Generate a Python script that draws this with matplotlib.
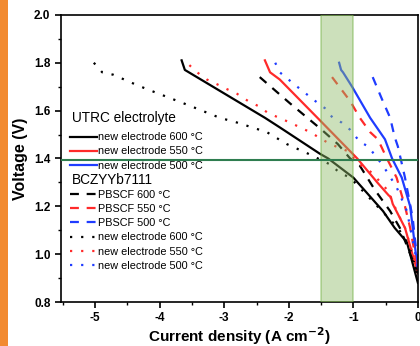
import matplotlib
matplotlib.use("Agg")
import matplotlib.pyplot as plt
from matplotlib.ticker import MultipleLocator
from matplotlib.patches import Rectangle

plt.rcParams['font.family'] = ['Liberation Sans', 'DejaVu Sans']

# UTRC electrolyte, new electrode (solid)
utrc600_x = [-3.66, -3.61, -3.3, -2.37, -2.14, -1.52, -1.39, -1.0, -0.54, -0.36, -0.17, 0.0]
utrc600_y = [1.81, 1.77, 1.72, 1.57, 1.53, 1.42, 1.40, 1.32, 1.18, 1.11, 1.05, 0.88]
utrc550_x = [-2.37, -2.29, -2.14, -1.52, -0.94, -0.63, -0.45, -0.42, -0.39, -0.2, 0.0]
utrc550_y = [1.81, 1.76, 1.73, 1.56, 1.40, 1.30, 1.245, 1.24, 1.21, 1.11, 0.92]
utrc500_x = [-1.22, -1.19, -1.16, -1.02, -0.74, -0.51, -0.40, -0.25, -0.12, 0.0]
utrc500_y = [1.80, 1.77, 1.76, 1.70, 1.57, 1.48, 1.40, 1.32, 1.20, 0.93]

# BCZYYb7111, PBSCF (dashed)
pbscf600_x = [-2.45, -1.98, -1.49, -1.24, -1.05, -0.9, -0.67, -0.43, -0.28, 0.0]
pbscf600_y = [1.74, 1.63, 1.52, 1.46, 1.40, 1.37, 1.27, 1.18, 1.11, 0.92]
pbscf550_x = [-1.33, -1.05, -0.90, -0.74, -0.62, -0.48, -0.33, -0.2, -0.12, 0.0]
pbscf550_y = [1.74, 1.64, 1.57, 1.51, 1.48, 1.40, 1.32, 1.20, 1.11, 0.93]
pbscf500_x = [-0.70, -0.56, -0.43, -0.36, -0.31, -0.2, -0.08, 0.0]
pbscf500_y = [1.74, 1.65, 1.57, 1.49, 1.45, 1.32, 1.15, 0.95]

# BCZYYb7111, new electrode (dotted)
bcz600_x = [-5.02, -4.89, -4.72, -4.55, -4.38, -4.2, -3.53, -3.07, -2.8, -2.34, -2.03, -1.70, -1.36, -1.21, -1.05, -0.31, -0.12, 0.0]
bcz600_y = [1.80, 1.76, 1.75, 1.73, 1.71, 1.69, 1.62, 1.57, 1.55, 1.51, 1.46, 1.42, 1.375, 1.34, 1.32, 1.11, 1.03, 0.90]
bcz550_x = [-3.54, -3.42, -3.27, -3.11, -2.96, -2.8, -2.63, -2.48, -2.32, -1.98, -1.67, -1.36, -1.08, -0.93, -0.71, -0.48, -0.31, -0.2, 0.0]
bcz550_y = [1.79, 1.76, 1.73, 1.71, 1.69, 1.67, 1.64, 1.62, 1.59, 1.55, 1.51, 1.46, 1.43, 1.38, 1.34, 1.27, 1.17, 1.11, 0.93]
bcz500_x = [-2.21, -2.14, -1.87, -1.59, -1.44, -1.32, -1.18, -1.05, -0.9, -0.77, -0.54, -0.33, -0.17, 0.0]
bcz500_y = [1.80, 1.76, 1.70, 1.64, 1.61, 1.57, 1.55, 1.52, 1.47, 1.45, 1.37, 1.28, 1.18, 0.95]

highlight_x = [-1.5, -1.0]
highlight_v = 1.393

fig = plt.figure(figsize=(4.2, 3.46), dpi=100)
# orange strip at left edge
fig.patches.append(Rectangle((0, 0), 8 / 420, 1, transform=fig.transFigure,
                             facecolor='#f28a30', edgecolor='none', zorder=0))
ax = fig.add_axes([0.145, 0.127, 0.85, 0.83])

dash = (0, (4, 3.5))
dot = (0, (1, 4))
lw = 1.6
h1 = []
h1 += ax.plot(utrc600_x, utrc600_y, color='black', lw=lw, label='new electrode 600 °C')
h1 += ax.plot(utrc550_x, utrc550_y, color='#ff2a2a', lw=lw, label='new electrode 550 °C')
h1 += ax.plot(utrc500_x, utrc500_y, color='#1f3cff', lw=lw, label='new electrode 500 °C')
h2 = []
h2 += ax.plot(pbscf600_x, pbscf600_y, color='black', lw=lw, ls=dash, label='PBSCF 600 °C')
h2 += ax.plot(pbscf550_x, pbscf550_y, color='#ff2a2a', lw=lw, ls=dash, label='PBSCF 550 °C')
h2 += ax.plot(pbscf500_x, pbscf500_y, color='#1f3cff', lw=lw, ls=dash, label='PBSCF 500 °C')
h2 += ax.plot(bcz600_x, bcz600_y, color='black', lw=lw, ls=dot, label='new electrode 600 °C')
h2 += ax.plot(bcz550_x, bcz550_y, color='#ff2a2a', lw=lw, ls=dot, label='new electrode 550 °C')
h2 += ax.plot(bcz500_x, bcz500_y, color='#1f3cff', lw=lw, ls=dot, label='new electrode 500 °C')

ax.axvspan(highlight_x[0], highlight_x[1], facecolor='#8fbc6a', alpha=0.45,
           edgecolor='#6fb040', lw=1.2, zorder=5)
ax.axhline(highlight_v, color='#2e7d4f', lw=1.5, zorder=6)

ax.set_xlim(-5.53, 0)
ax.set_ylim(0.8, 2.0)
ax.xaxis.set_major_locator(MultipleLocator(1))
ax.xaxis.set_minor_locator(MultipleLocator(0.5))
ax.yaxis.set_major_locator(MultipleLocator(0.2))
ax.yaxis.set_minor_locator(MultipleLocator(0.1))
ax.set_xticks([-5, -4, -3, -2, -1, 0])
ax.set_xticklabels(['-5', '-4', '-3', '-2', '-1', '0'])
ax.tick_params(which='major', direction='out', length=4, width=1.2, labelsize=8.5)
ax.tick_params(which='minor', direction='out', length=2.5, width=1.0)
for lab in ax.get_xticklabels() + ax.get_yticklabels():
    lab.set_fontweight('bold')
for s in ax.spines.values():
    s.set_linewidth(1.2)

ax.set_xlabel('Current density (A cm$^{\\mathbf{-2}}$)', fontsize=11, fontweight='bold', labelpad=0.5)
ax.set_ylabel('Voltage (V)', fontsize=11.5, fontweight='bold', labelpad=4)

common = dict(loc='upper left', frameon=False, fontsize=7.8, handlelength=2.5,
              handletextpad=0.1, labelspacing=0.38, borderaxespad=0, borderpad=0)
leg1 = ax.legend(handles=h1, bbox_to_anchor=(0.025, 0.591), **common)
ax.add_artist(leg1)
leg2 = ax.legend(handles=h2, bbox_to_anchor=(0.025, 0.39), **common)
for lg in (leg1, leg2):
    lg.set_zorder(7)

ax.text(0.03, 0.642, 'UTRC electrolyte', transform=ax.transAxes, fontsize=9.8,
        ha='left', va='center', zorder=7)
ax.text(0.03, 0.426, 'BCZYYb7111', transform=ax.transAxes, fontsize=9.8,
        ha='left', va='center', zorder=7)

fig.savefig('out.png', dpi=100)
